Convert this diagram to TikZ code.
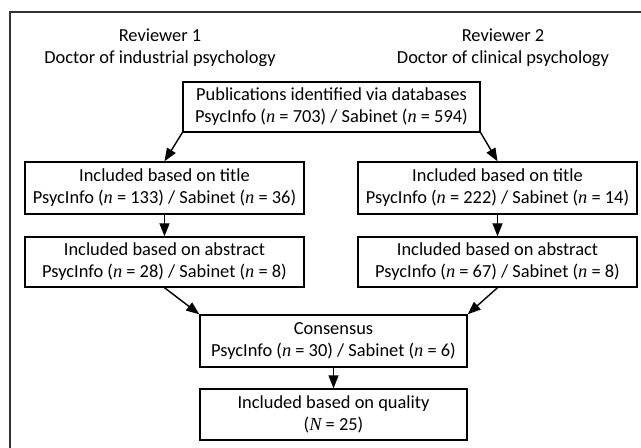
\documentclass[tikz,border=0pt]{standalone}
\usepackage{fontspec}
\setmainfont{Carlito}
\newfontfamily\nfont{Liberation Serif}
\usetikzlibrary{arrows.meta}
\newcommand{\nn}{{\nfont\itshape n}}
\newcommand{\NN}{{\nfont\itshape N}}
\tikzset{
  stagebox/.style={draw, line width=0.7pt, align=center, inner sep=0pt, minimum width=139.5pt, minimum height=25.5pt},
  flow/.style={-{Triangle[width=5pt,length=6.5pt]}, line width=0.7pt}
}
\begin{document}
\begin{tikzpicture}[x=0.5pt, y=-0.5pt, font=\fontsize{9.2}{11}\selectfont]
  \useasboundingbox (0, 0) rectangle (641, 448);
  % frame
  \draw[line width=0.7pt, black!80] (641, 12) -- (10, 12) -- (10, 448);
  % reviewers
  \node[align=center] (rev1) at (160, 48) {Reviewer 1\\Doctor of industrial psychology};
  \node[align=center] (rev2) at (503, 48) {Reviewer 2\\Doctor of clinical psychology};
  % boxes
  \node[stagebox, minimum width=148.5pt, minimum height=25pt] (ident) at (331.5, 107) {Publications identified via databases\\PsycInfo (\nn{} = 703) / Sabinet (\nn{} = 594)};
  \node[stagebox, minimum height=26pt] (title1) at (164.5, 188) {Included based on title\\PsycInfo (\nn{} = 133) / Sabinet (\nn{} = 36)};
  \node[stagebox, minimum height=26pt] (title2) at (497.5, 188) {Included based on title\\PsycInfo (\nn{} = 222) / Sabinet (\nn{} = 14)};
  \node[stagebox, minimum height=25pt] (abs1) at (164.5, 262) {Included based on abstract\\PsycInfo (\nn{} = 28) / Sabinet (\nn{} = 8)};
  \node[stagebox, minimum height=25pt] (abs2) at (497.5, 262) {Included based on abstract\\PsycInfo (\nn{} = 67) / Sabinet (\nn{} = 8)};
  \node[stagebox, minimum width=133.5pt, minimum height=26pt] (cons) at (333.5, 341) {Consensus\\PsycInfo (\nn{} = 30) / Sabinet (\nn{} = 6)};
  \node[stagebox, minimum width=133.5pt, minimum height=25.5pt] (qual) at (333.5, 414.5) {Included based on quality\\(\NN{} = 25)};
  % arrows
  \draw[flow] (ident.south west) -- (title1.north);
  \draw[flow] (ident.south east) -- (title2.north);
  \draw[flow] (title1) -- (abs1);
  \draw[flow] (title2) -- (abs2);
  \draw[flow] (abs1.south) -- (cons.north west);
  \draw[flow] (abs2.south) -- (cons.north east);
  \draw[flow] (cons) -- (qual);
\end{tikzpicture}
\end{document}
